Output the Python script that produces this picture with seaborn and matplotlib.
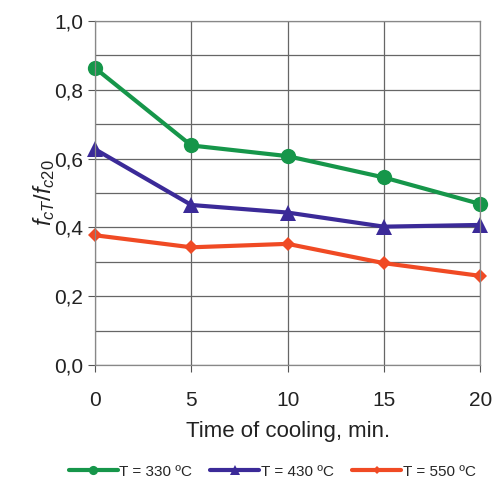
import pandas as pd
import matplotlib.pyplot as plt
import seaborn as sns

# Data
time_min = [0, 5, 10, 15, 20]
t330 = [0.863, 0.638, 0.607, 0.545, 0.468]
t430 = [0.627, 0.465, 0.443, 0.402, 0.407]
t550 = [0.377, 0.342, 0.352, 0.296, 0.259]
labels = ["T = 330 ºC", "T = 430 ºC", "T = 550 ºC"]

df = pd.DataFrame({"time": time_min * 3,
                   "ratio": t330 + t430 + t550,
                   "series": [labels[0]] * 5 + [labels[1]] * 5 + [labels[2]] * 5})

sns.set_style("white")
plt.rcParams['font.family'] = ['Liberation Sans', 'DejaVu Sans']
plt.rcParams['mathtext.fontset'] = 'custom'
plt.rcParams['mathtext.it'] = 'Liberation Sans:italic'
plt.rcParams['mathtext.rm'] = 'Liberation Sans'

colors = ["#16964a", "#3b2a98", "#f04a24"]
markers = ["o", "^", "D"]

fig = plt.figure(figsize=(4.95, 4.86), dpi=100)
ax = fig.add_axes([0.192, 0.249, 0.778, 0.708])

sns.lineplot(data=df, x="time", y="ratio", hue="series", style="series",
             palette=colors, markers=markers, dashes=False, linewidth=3,
             markersize=11, markeredgewidth=0, ax=ax)
for line in ax.lines:
    line.set_clip_on(False)
    # smaller diamonds for the red series
    if line.get_marker() == "D":
        line.set_markersize(7.5)

ax.set_xlim(0, 20)
ax.set_ylim(0, 1.0)
ax.set_xticks([0, 5, 10, 15, 20])
ax.set_yticks([0, 0.2, 0.4, 0.6, 0.8, 1.0])
ax.set_yticklabels(["0,0", "0,2", "0,4", "0,6", "0,8", "1,0"])
ax.set_yticks([0.1, 0.3, 0.5, 0.7, 0.9], minor=True)
ax.grid(True, which="both", color="#666666", linewidth=0.9)
ax.set_axisbelow(True)
for s in ax.spines.values():
    s.set_color("#888888")
    s.set_linewidth(0.9)
ax.tick_params(axis="both", which="major", labelsize=15, length=5, color="#555555",
               direction="out", bottom=True, left=True, colors="#222222")
ax.tick_params(axis="x", which="major", pad=14)
ax.tick_params(axis="y", which="minor", length=0)
ax.set_xlabel("Time of cooling, min.", fontsize=16, color="#222222", labelpad=8)
ax.set_ylabel(r"$f_{cT}/f_{c20}$", fontsize=17, labelpad=-2, color="#222222")

ax.legend(loc="upper center", bbox_to_anchor=(0.46, -0.25), ncol=3, frameon=False,
          fontsize=11, handlelength=3.2, handletextpad=0.1, columnspacing=1.2,
          markerscale=0.6)

fig.savefig("out.png", dpi=100)
